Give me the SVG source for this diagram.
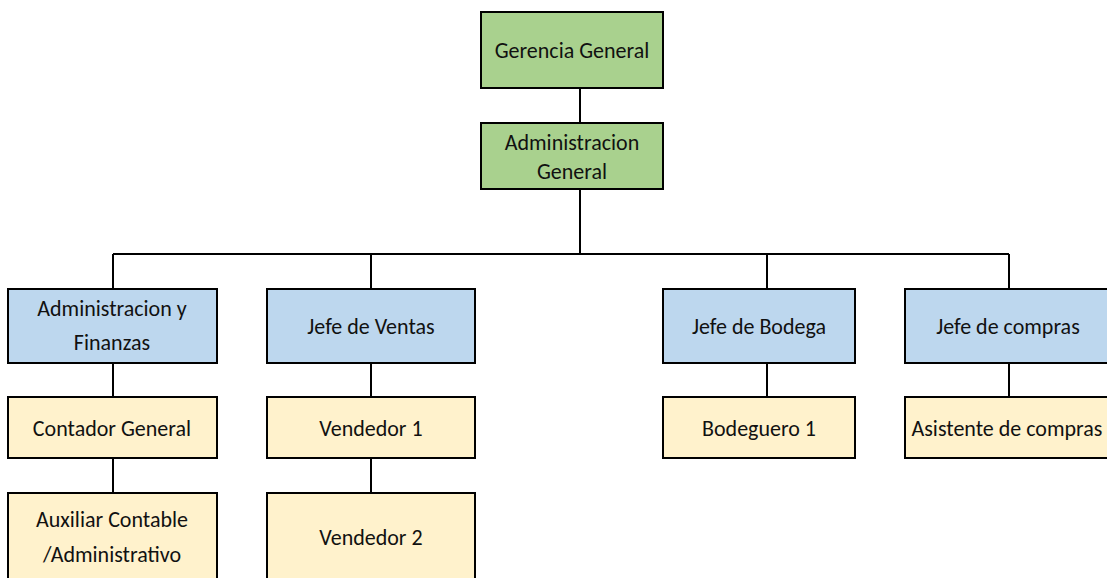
<svg xmlns="http://www.w3.org/2000/svg" width="1107" height="578" viewBox="0 0 1107 578">
<style>
rect{stroke:#000;stroke-width:2}
.g{fill:#A9D18E}.b{fill:#BDD7EE}.y{fill:#FFF2CC}
text{font-family:Carlito,Lato,"Liberation Sans",sans-serif;font-size:22px;fill:#111;text-anchor:middle}
#connectors line{stroke:#000;stroke-width:2}
</style>
<rect width="1107" height="578" fill="#fff" style="stroke:none"/>
<g id="connectors">
<line x1="580" y1="88" x2="580" y2="123"/>
<line x1="580" y1="189" x2="580" y2="254"/>
<line x1="113" y1="254" x2="1009" y2="254"/>
<line x1="113" y1="254" x2="113" y2="289"/>
<line x1="371" y1="254" x2="371" y2="289"/>
<line x1="767" y1="254" x2="767" y2="289"/>
<line x1="1009" y1="254" x2="1009" y2="289"/>
<line x1="113" y1="363" x2="113" y2="397"/>
<line x1="371" y1="363" x2="371" y2="397"/>
<line x1="767" y1="363" x2="767" y2="397"/>
<line x1="1009" y1="363" x2="1009" y2="397"/>
<line x1="113" y1="458" x2="113" y2="493"/>
<line x1="371" y1="458" x2="371" y2="493"/>
</g>
<g id="gerencia"><rect class="g" x="481" y="12" width="182" height="76"/><text x="572" y="58">Gerencia General</text></g>
<g id="admingeneral"><rect class="g" x="481" y="123" width="182" height="66"/><text x="572" y="150">Administracion</text><text x="572" y="179">General</text></g>
<g id="finanzas"><rect class="b" x="8" y="289" width="209" height="74"/><text x="112" y="316">Administracion y</text><text x="112" y="350">Finanzas</text></g>
<g id="ventas"><rect class="b" x="267" y="289" width="208" height="74"/><text x="371" y="334">Jefe de Ventas</text></g>
<g id="bodega"><rect class="b" x="663" y="289" width="192" height="74"/><text x="759" y="334">Jefe de Bodega</text></g>
<g id="compras"><rect class="b" x="905" y="289" width="208" height="74"/><text x="1008" y="334">Jefe de compras</text></g>
<g id="contador"><rect class="y" x="8" y="397" width="209" height="61"/><text x="112" y="436">Contador General</text></g>
<g id="vendedor1"><rect class="y" x="267" y="397" width="208" height="61"/><text x="371" y="436">Vendedor 1</text></g>
<g id="bodeguero"><rect class="y" x="663" y="397" width="192" height="61"/><text x="759" y="436">Bodeguero 1</text></g>
<g id="asistente"><rect class="y" x="905" y="397" width="208" height="61"/><text x="1007" y="436">Asistente de compras</text></g>
<g id="auxiliar"><rect class="y" x="8" y="493" width="209" height="92"/><text x="112" y="527">Auxiliar Contable</text><text x="112" y="562">/Administrativo</text></g>
<g id="vendedor2"><rect class="y" x="267" y="493" width="208" height="92"/><text x="371" y="545">Vendedor 2</text></g>
</svg>
